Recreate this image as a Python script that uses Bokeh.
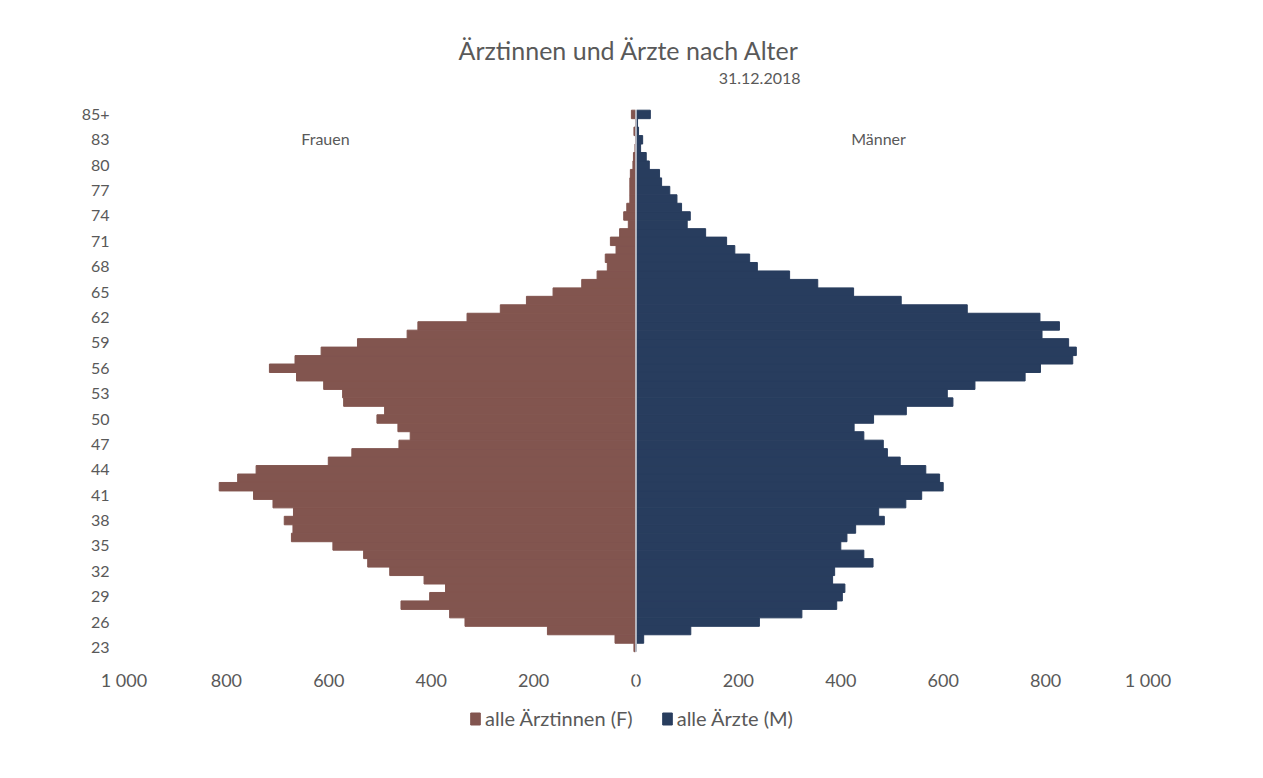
from bokeh.plotting import figure
from bokeh.models import ColumnDataSource, FixedTicker, Span, Label, Legend, LegendItem
from bokeh.embed import file_html
from bokeh.resources import INLINE

# ---------------- data ----------------
ages = [str(a) for a in range(23, 86)] + ["85+"]

female = [4, 41, 173, 334, 364, 459, 403, 372, 414, 481,
          524, 532, 592, 673, 670, 687, 669, 709, 747, 814,
          778, 742, 601, 555, 463, 441, 465, 506, 491, 571,
          573, 610, 663, 716, 666, 615, 544, 447, 426, 330,
          265, 214, 162, 106, 76, 56, 60, 39, 50, 32,
          15, 24, 18, 12, 12, 12, 11, 6, 5, 2,
          1, 4, 1, 9]

male = [0, 15, 107, 241, 324, 392, 403, 408, 384, 388,
        463, 445, 400, 412, 429, 485, 474, 527, 558, 600,
        593, 566, 516, 491, 483, 445, 426, 464, 528, 619,
        608, 662, 760, 790, 853, 860, 845, 793, 827, 789,
        647, 518, 425, 355, 300, 237, 222, 193, 177, 136,
        100, 106, 89, 80, 66, 50, 46, 26, 20, 9,
        13, 5, 3, 28]

x_ticks = [-1000, -800, -600, -400, -200, 0, 200, 400, 600, 800, 1000]
x_tick_labels = ["1 000", "800", "600", "400", "200", "0", "200", "400", "600", "800", "1 000"]

title_text = "Ärztinnen und Ärzte nach Alter"
subtitle_text = "31.12.2018"
series_names = ["alle Ärztinnen (F)", "alle Ärzte (M)"]

# ---------------- style / layout ----------------
FONT = "Lato"
TEXT = "#595959"
C_F = "#82554F"
C_M = "#283D5E"

W, H = 1245, 770
FT, FB = 10, 740                  # frame top / bottom (px)
FL, FR = 60, 1200                 # frame left / right (px)
X0 = 635.5                        # pixel of value 0
SX = 0.512                        # pixels per unit
ROW0 = 651.2                      # pixel of the lower edge of the first row
PPU = 541.5 / len(ages)           # pixels per row


def yv(px):
    return (ROW0 - px) / PPU - 0.5


def xv(px):
    return (px - X0) / SX


idx = list(range(len(ages)))
src = ColumnDataSource(dict(
    y=idx,
    fl=[-v for v in female],
    zero=[0] * len(ages),
    mr=male,
))

p = figure(width=W, height=H, output_backend="svg", toolbar_location=None,
           x_range=(xv(FL), xv(FR)), y_range=(yv(FB), yv(FT)),
           min_border_left=FL, min_border_right=W - FR, min_border_top=FT,
           min_border_bottom=H - FB)
p.outline_line_color = None
p.xgrid.visible = False
p.ygrid.visible = False
p.background_fill_color = "white"

rf = p.hbar(y="y", left="fl", right="zero", height=1.0, source=src,
            fill_color=C_F, line_color=C_F, line_width=1)
rm = p.hbar(y="y", left="zero", right="mr", height=1.0, source=src,
            fill_color=C_M, line_color=C_M, line_width=1)

p.add_layout(Span(location=0, dimension="height", line_color="white", line_width=1.2))

# x axis (drawn at a fixed location under the bars)
p.xaxis.fixed_location = yv(668)
p.xaxis.ticker = FixedTicker(ticks=x_ticks)
p.xaxis.major_label_overrides = {t: l for t, l in zip(x_ticks, x_tick_labels)}
p.xaxis.axis_line_color = None
p.xaxis.major_tick_line_color = None
p.xaxis.minor_tick_line_color = None
p.xaxis.major_tick_out = 0
p.xaxis.major_tick_in = 0
p.xaxis.major_label_standoff = 0
p.xaxis.major_label_text_font = FONT
p.xaxis.major_label_text_font_size = "18px"
p.xaxis.major_label_text_color = TEXT

# y axis (drawn at a fixed location left of the bars)
y_ticks = list(range(0, len(ages), 3))
p.yaxis.fixed_location = xv(109)
p.yaxis.ticker = FixedTicker(ticks=y_ticks)
p.yaxis.major_label_overrides = {t: ages[t] for t in y_ticks}
p.yaxis.axis_line_color = None
p.yaxis.major_tick_line_color = None
p.yaxis.minor_tick_line_color = None
p.yaxis.major_tick_out = 0
p.yaxis.major_tick_in = 0
p.yaxis.major_label_standoff = 0
p.yaxis.major_label_text_font = FONT
p.yaxis.major_label_text_font_size = "16px"
p.yaxis.major_label_text_color = TEXT

# texts
p.add_layout(Label(x=0, y=yv(49), x_offset=-7, text=title_text,
                   text_align="center", text_baseline="middle",
                   text_font=FONT, text_font_size="25px", text_color=TEXT))
p.add_layout(Label(x=xv(800), y=yv(78), text=subtitle_text,
                   text_align="right", text_baseline="middle",
                   text_font=FONT, text_font_size="16px", text_color=TEXT))
p.add_layout(Label(x=xv(325), y=yv(138), text="Frauen",
                   text_align="center", text_baseline="middle",
                   text_font=FONT, text_font_size="16px", text_color=TEXT))
p.add_layout(Label(x=xv(878), y=yv(138), text="Männer",
                   text_align="center", text_baseline="middle",
                   text_font=FONT, text_font_size="16px", text_color=TEXT))

legend = Legend(items=[LegendItem(label=series_names[0], renderers=[rf]),
                       LegendItem(label=series_names[1], renderers=[rm])],
                orientation="horizontal", location=(469 - FL, FB - 730),
                border_line_color=None, background_fill_alpha=0,
                label_text_font=FONT, label_text_font_size="20px",
                label_text_color=TEXT, glyph_width=12, glyph_height=15,
                spacing=28, label_standoff=4, padding=0, margin=0)
p.add_layout(legend, "center")

open("out.html", "w").write(file_html(p, INLINE))
